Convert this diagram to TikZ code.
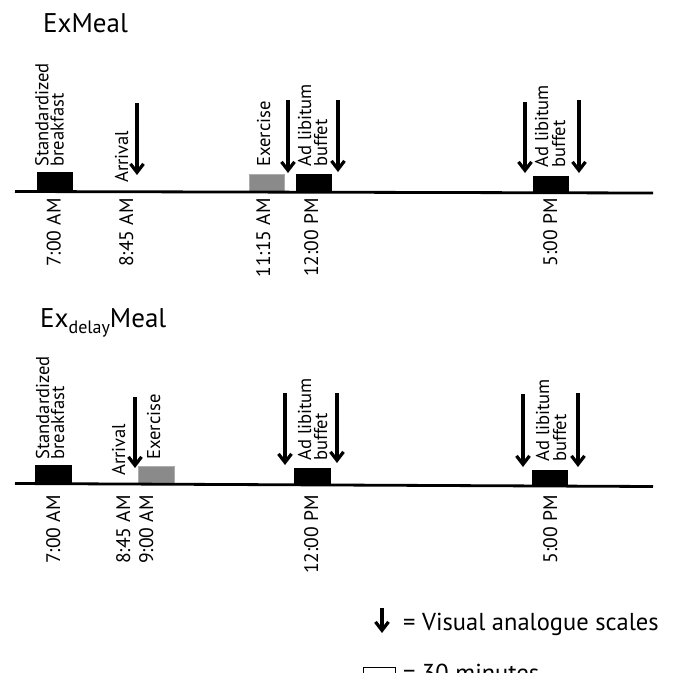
\documentclass[tikz,border=0pt]{standalone}
\usepackage{fontspec}
\setmainfont{PT Sans}
\usetikzlibrary{arrows.meta}
\definecolor{exgray}{RGB}{138,138,138}
\begin{document}
\begin{tikzpicture}[x=1pt,y=-1pt,
  vas/.style={line width=3.3pt, -{Straight Barb[length=8.5pt,width=13pt,line width=3.2pt]}},
  tline/.style={line width=2.8pt},
  blk/.style={fill=black, draw=black, line width=0.5pt},
  exb/.style={fill=exgray, draw=exgray!70!white, line width=0.6pt},
  lab/.style={rotate=90, anchor=base west, inner sep=0pt, font=\fontsize{18.6}{18}\selectfont},
  tim/.style={rotate=90, anchor=base east, inner sep=0pt, font=\fontsize{19.6}{19}\selectfont},
  ttl/.style={anchor=base west, inner sep=0pt, font=\fontsize{27}{27}\selectfont},
  leg/.style={anchor=base west, inner sep=0pt, font=\fontsize{24.5}{24}\selectfont},
]
\useasboundingbox (0,0) rectangle (673,673);

% ---------- titles ----------
\node[ttl] (title1) at (43,32) {ExMeal};
\node[ttl] (title2) at (40,327) {Ex\raisebox{-6pt}{\fontsize{18}{18}\selectfont delay}Meal};

% ---------- timelines ----------
\coordinate (l1a) at (15,191.5);
\coordinate (l1b) at (653,193);
\coordinate (l2a) at (15,483.5);
\coordinate (l2b) at (653,486.5);

% top boxes
\draw[blk] (37,172) rectangle (72,191.5);
\draw[exb] (249,174) rectangle (284,191.5);
\draw[blk] (296,174) rectangle (331,192);
\draw[blk] (533,176) rectangle (568,193);
% bottom boxes
\draw[blk] (35,465) rectangle (71,484);
\draw[exb] (138,466) rectangle (174,484);
\draw[blk] (294,468) rectangle (330,485);
\draw[blk] (532,470) rectangle (567,486);

\draw[tline] (l1a) -- (l1b);
\draw[tline] (l2a) -- (l2b);

% ---------- arrows (visual analogue scales) ----------
\foreach \n/\x/\a/\b in {t1/137/103/175, t2/288/100/173, t3/338/100/172, t4/525/102/173, t5/579/100/173,
                         b1/135/397/468, b2/285/393/465, b3/337/393/463, b4/523/394/467, b5/578/393/467,
                         lg/382/608/633} {
  \coordinate (\n s) at (\x,\a);
  \coordinate (\n e) at (\x,\b);
  \draw[vas] (\n s) -- (\n e);
}

% ---------- event labels (top) ----------
\node[lab] (tsb1) at (48.5,167) {Standardized};
\node[lab] (tsb2) at (63.5,167) {breakfast};
\node[lab] (tarr) at (128,183) {Arrival};
\node[lab] (texe) at (270,167) {Exercise};
\node[lab] (tab1) at (311,167) {Ad libitum};
\node[lab] (tab2) at (327,167) {buffet};
\node[lab] (tac1) at (548,168) {Ad libitum};
\node[lab] (tac2) at (565,168) {buffet};

% ---------- time labels (top) ----------
\node[tim] (tt1) at (60.5,198) {7:00 AM};
\node[tim] (tt2) at (133,198) {8:45 AM};
\node[tim] (tt3) at (270,198) {11:15 AM};
\node[tim] (tt4) at (318,198) {12:00 PM};
\node[tim] (tt5) at (557,198) {5:00 PM};

% ---------- event labels (bottom) ----------
\node[lab] (bsb1) at (49,460) {Standardized};
\node[lab] (bsb2) at (64,460) {breakfast};
\node[lab] (barr) at (125,476) {Arrival};
\node[lab] (bexe) at (160,460) {Exercise};
\node[lab] (bab1) at (311,461) {Ad libitum};
\node[lab] (bab2) at (327,461) {buffet};
\node[lab] (bac1) at (549,462) {Ad libitum};
\node[lab] (bac2) at (566,462) {buffet};

% ---------- time labels (bottom) ----------
\node[tim] (bt1) at (60,495) {7:00 AM};
\node[tim] (bt2) at (130,495) {8:45 AM};
\node[tim] (bt3) at (153,495) {9:00 AM};
\node[tim] (bt4) at (318,495) {12:00 PM};
\node[tim] (bt5) at (557,495) {5:00 PM};

% ---------- legend ----------
\node[leg] (leg1) at (403,630) {= Visual analogue scales};
\draw[line width=0.8pt] (363,690) -- (363,667.5) -- (395,667.5) -- (395,690);
\node[leg] (leg2) at (403,681) {= 30 minutes};
\end{tikzpicture}
\end{document}
